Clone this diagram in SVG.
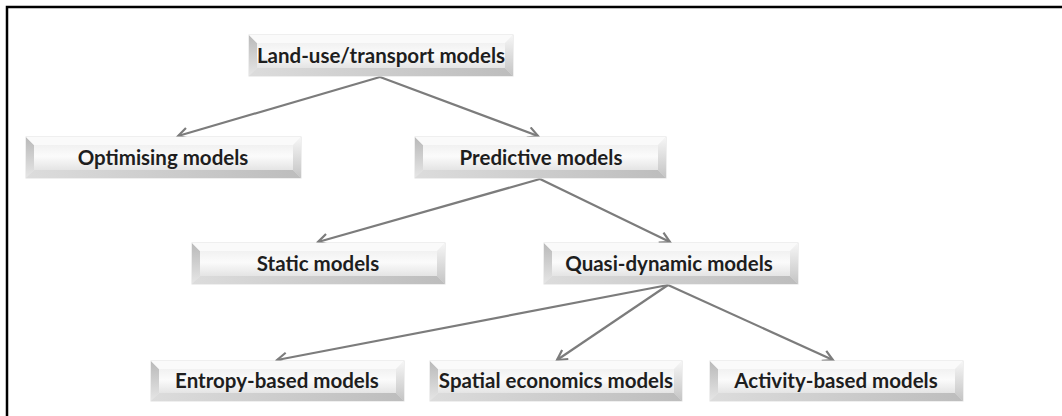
<svg xmlns="http://www.w3.org/2000/svg" width="1062" height="416" viewBox="0 0 1062 416">
  <style>
    .lbl { font-family: Lato, "Liberation Sans", sans-serif; font-weight: bold; font-size: 20.5px; fill: #1e1e1e; text-anchor: middle; }
    .edge { stroke: #7c7c7c; stroke-width: 2.2; fill: none; marker-end: url(#chev); }
    .rim { fill: url(#face); stroke: #e0e0e0; stroke-width: 1; }
    .bl { fill: url(#leftBev); }
    .bt { fill: #fafafa; }
    .br { fill: url(#rightBev); }
    .bb { fill: url(#bottomBev); }
  </style>
  <defs>
    <linearGradient id="face" x1="0" y1="0" x2="0" y2="1">
      <stop offset="0" stop-color="#f1f1f1"/>
      <stop offset="0.45" stop-color="#fbfbfb"/>
      <stop offset="1" stop-color="#e4e4e4"/>
    </linearGradient>
    <linearGradient id="leftBev" x1="0" y1="0" x2="0" y2="1">
      <stop offset="0" stop-color="#b9b9b9"/>
      <stop offset="1" stop-color="#e6e6e6"/>
    </linearGradient>
    <linearGradient id="rightBev" x1="0" y1="0" x2="0" y2="1">
      <stop offset="0" stop-color="#f6f6f6"/>
      <stop offset="1" stop-color="#c4c4c4"/>
    </linearGradient>
    <linearGradient id="bottomBev" x1="0" y1="0" x2="1" y2="0">
      <stop offset="0" stop-color="#dcdcdc"/>
      <stop offset="1" stop-color="#bdbdbd"/>
    </linearGradient>
    <marker id="chev" viewBox="0 0 12 12" refX="10" refY="6" markerWidth="6" markerHeight="6" orient="auto" markerUnits="strokeWidth">
      <path d="M1,1 L10,6 L1,11" fill="none" stroke="#7c7c7c" stroke-width="2"/>
    </marker>
  </defs>

  <rect width="1062" height="416" fill="#ffffff"/>
  <!-- outer frame -->
  <path d="M7,416 V7 H1062" fill="none" stroke="#000" stroke-width="2.5"/>

  <g id="connectors">
    <line class="edge" x1="380" y1="77" x2="178" y2="136"/>
    <line class="edge" x1="380" y1="77" x2="538" y2="136"/>
    <line class="edge" x1="540" y1="179" x2="318" y2="242"/>
    <line class="edge" x1="540" y1="179" x2="670" y2="242"/>
    <line class="edge" x1="668" y1="285" x2="277" y2="360"/>
    <line class="edge" x1="668" y1="285" x2="557" y2="360"/>
    <line class="edge" x1="668" y1="285" x2="833" y2="360"/>
  </g>

  <g id="landuse" transform="translate(249,35)">
    <rect class="rim" width="264" height="41"/>
    <polygon class="bl" points="0,0 8,8 8,33 0,41"/>
    <polygon class="bt" points="0,0 264,0 256,8 8,8"/>
    <polygon class="br" points="264,0 264,41 256,33 256,8"/>
    <polygon class="bb" points="0,41 264,41 256,33 8,33"/>
    <rect x="8" y="8" width="248" height="25" fill="url(#face)"/>
    <text class="lbl" x="132" y="28">Land-use/transport models</text>
  </g>

  <g id="optimising" transform="translate(26,137)">
    <rect class="rim" width="275" height="41"/>
    <polygon class="bl" points="0,0 8,8 8,33 0,41"/>
    <polygon class="bt" points="0,0 275,0 267,8 8,8"/>
    <polygon class="br" points="275,0 275,41 267,33 267,8"/>
    <polygon class="bb" points="0,41 275,41 267,33 8,33"/>
    <rect x="8" y="8" width="259" height="25" fill="url(#face)"/>
    <text class="lbl" x="137" y="28">Optimising models</text>
  </g>

  <g id="predictive" transform="translate(415,137)">
    <rect class="rim" width="251" height="41"/>
    <polygon class="bl" points="0,0 8,8 8,33 0,41"/>
    <polygon class="bt" points="0,0 251,0 243,8 8,8"/>
    <polygon class="br" points="251,0 251,41 243,33 243,8"/>
    <polygon class="bb" points="0,41 251,41 243,33 8,33"/>
    <rect x="8" y="8" width="235" height="25" fill="url(#face)"/>
    <text class="lbl" x="126" y="28">Predictive models</text>
  </g>

  <g id="static" transform="translate(192,243)">
    <rect class="rim" width="253" height="41"/>
    <polygon class="bl" points="0,0 8,8 8,33 0,41"/>
    <polygon class="bt" points="0,0 253,0 245,8 8,8"/>
    <polygon class="br" points="253,0 253,41 245,33 245,8"/>
    <polygon class="bb" points="0,41 253,41 245,33 8,33"/>
    <rect x="8" y="8" width="237" height="25" fill="url(#face)"/>
    <text class="lbl" x="126" y="28">Static models</text>
  </g>

  <g id="quasidynamic" transform="translate(544,243)">
    <rect class="rim" width="254" height="41"/>
    <polygon class="bl" points="0,0 8,8 8,33 0,41"/>
    <polygon class="bt" points="0,0 254,0 246,8 8,8"/>
    <polygon class="br" points="254,0 254,41 246,33 246,8"/>
    <polygon class="bb" points="0,41 254,41 246,33 8,33"/>
    <rect x="8" y="8" width="238" height="25" fill="url(#face)"/>
    <text class="lbl" x="125" y="28">Quasi-dynamic models</text>
  </g>

  <g id="entropy" transform="translate(151,361)">
    <rect class="rim" width="253" height="40"/>
    <polygon class="bl" points="0,0 8,8 8,32 0,40"/>
    <polygon class="bt" points="0,0 253,0 245,8 8,8"/>
    <polygon class="br" points="253,0 253,40 245,32 245,8"/>
    <polygon class="bb" points="0,40 253,40 245,32 8,32"/>
    <rect x="8" y="8" width="237" height="24" fill="url(#face)"/>
    <text class="lbl" x="126" y="27">Entropy-based models</text>
  </g>

  <g id="spatial" transform="translate(430,361)">
    <rect class="rim" width="252" height="40"/>
    <polygon class="bl" points="0,0 8,8 8,32 0,40"/>
    <polygon class="bt" points="0,0 252,0 244,8 8,8"/>
    <polygon class="br" points="252,0 252,40 244,32 244,8"/>
    <polygon class="bb" points="0,40 252,40 244,32 8,32"/>
    <rect x="8" y="8" width="236" height="24" fill="url(#face)"/>
    <text class="lbl" x="126" y="27">Spatial economics models</text>
  </g>

  <g id="activity" transform="translate(710,361)">
    <rect class="rim" width="253" height="40"/>
    <polygon class="bl" points="0,0 8,8 8,32 0,40"/>
    <polygon class="bt" points="0,0 253,0 245,8 8,8"/>
    <polygon class="br" points="253,0 253,40 245,32 245,8"/>
    <polygon class="bb" points="0,40 253,40 245,32 8,32"/>
    <rect x="8" y="8" width="237" height="24" fill="url(#face)"/>
    <text class="lbl" x="126" y="27">Activity-based models</text>
  </g>
</svg>
